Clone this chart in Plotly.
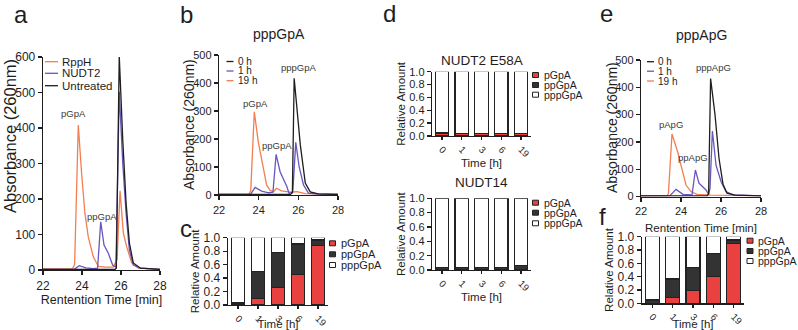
import plotly.graph_objects as go

W, H = 798, 330
FONT = "Liberation Sans, Arial, sans-serif"
INK = "#1e1e1e"
ORANGE = "#F27E52"
PURPLE = "#6A55C0"
BLACK = "#1e1e1e"
RED = "#E8413F"
DARK = "#333333"

# ---------------- data ----------------
# panel a : pppGpA treated with enzymes
a_rpph_t = [22.0, 23.0, 23.5, 23.62, 23.81, 23.98, 24.15, 24.32, 24.58, 24.84, 25.2, 25.6, 25.8, 25.95, 26.12, 26.29, 26.55, 26.89, 27.5, 28.0]
a_rpph_v = [3, 3, 3, 15, 408, 272, 160, 94, 37, 10, 8, 8, 30, 223, 104, 66, 20, 5, 3, 2]
a_nudt2_t = [22.0, 23.6, 23.86, 24.2, 24.58, 24.8, 24.96, 25.13, 25.35, 25.57, 25.74, 25.91, 26.09, 26.26, 26.43, 26.63, 27.0, 28.0]
a_nudt2_v = [2, 2, 12, 6, 4, 5, 136, 70, 47, 14, 8, 502, 300, 160, 56, 14, 5, 2]
a_untr_t = [22.0, 25.7, 25.76, 25.91, 26.09, 26.26, 26.43, 26.63, 27.0, 28.0]
a_untr_v = [2, 2, 5, 603, 366, 189, 76, 20, 5, 2]
a_names = ["RppH", "NUDT2", "Untreated"]

# panel b : pppGpA time course
b_19h_t = [22.0, 23.5, 23.6, 23.78, 23.98, 24.24, 24.4, 24.57, 24.75, 24.9, 25.15, 25.6, 25.93, 26.35, 27.0, 28.0]
b_19h_v = [2, 2, 15, 297, 190, 89, 36, 17, 12, 24, 15, 10, 12, 5, 3, 2]
b_1h_t = [22.0, 23.6, 23.82, 24.15, 24.5, 24.72, 24.88, 25.08, 25.42, 25.53, 25.72, 25.87, 26.04, 26.26, 26.51, 27.0, 28.0]
b_1h_v = [2, 3, 27, 14, 8, 10, 145, 83, 30, 6, 10, 188, 101, 36, 7, 3, 2]
b_0h_t = [22.0, 25.6, 25.7, 25.79, 26.1, 26.35, 26.6, 27.0, 28.0]
b_0h_v = [2, 2, 8, 417, 179, 43, 11, 4, 2]

# panel e : pppApG time course
e_19h_t = [22.0, 23.3, 23.37, 23.55, 23.83, 24.25, 24.5, 24.8, 25.5, 26.0, 27.0, 28.0]
e_19h_v = [2, 2, 10, 229, 164, 42, 18, 8, 5, 4, 2, 2]
e_1h_t = [22.0, 23.45, 23.75, 24.1, 24.55, 24.72, 24.9, 25.25, 25.38, 25.45, 25.57, 25.75, 26.0, 26.25, 26.6, 27.5, 28.0]
e_1h_v = [2, 3, 26, 8, 6, 97, 49, 24, 8, 30, 240, 115, 55, 18, 6, 3, 2]
e_0h_t = [22.0, 25.3, 25.38, 25.48, 25.7, 25.9, 26.1, 26.3, 26.7, 28.0]
e_0h_v = [2, 2, 10, 432, 300, 140, 45, 12, 5, 2]
time_names = ["0 h", "1 h", "19 h"]

# stacked bars (relative amounts)
bar_times = ["0", "1", "3", "6", "19"]
species = ["pGpA", "ppGpA", "pppGpA"]
c_p = [0.0, 0.10, 0.26, 0.455, 0.88]
c_pp = [0.03, 0.395, 0.52, 0.45, 0.085]
c_ppp = [0.97, 0.505, 0.22, 0.095, 0.035]
d1_p = [0.04, 0.035, 0.035, 0.035, 0.035]
d1_pp = [0.02, 0.01, 0.01, 0.01, 0.01]
d1_ppp = [0.94, 0.955, 0.955, 0.955, 0.955]
d2_p = [0.0, 0.0, 0.0, 0.0, 0.0]
d2_pp = [0.035, 0.04, 0.03, 0.03, 0.06]
d2_ppp = [0.965, 0.96, 0.97, 0.97, 0.94]
f_p = [0.0, 0.09, 0.19, 0.40, 0.90]
f_pp = [0.05, 0.275, 0.35, 0.35, 0.05]
f_ppp = [0.95, 0.635, 0.46, 0.25, 0.05]


def xd(px):
    return px / W


def yd(py):
    return 1 - py / H


fig = go.Figure()

def line(t, v, color, ax):
    fig.add_trace(go.Scatter(x=t, y=v, mode="lines", line=dict(color=color, width=1.3),
                             xaxis="x" + ax, yaxis="y" + ax, showlegend=False, hoverinfo="skip"))

line(a_rpph_t, a_rpph_v, ORANGE, "")
line(a_nudt2_t, a_nudt2_v, PURPLE, "")
line(a_untr_t, a_untr_v, BLACK, "")
line(b_19h_t, b_19h_v, ORANGE, "2")
line(b_1h_t, b_1h_v, PURPLE, "2")
line(b_0h_t, b_0h_v, BLACK, "2")
line(e_19h_t, e_19h_v, ORANGE, "6")
line(e_1h_t, e_1h_v, PURPLE, "6")
line(e_0h_t, e_0h_v, BLACK, "6")

bar_colors = [RED, DARK, "#FFFFFF"]

def bars(vals, ax):
    for name, v, col in zip(species, vals, bar_colors):
        fig.add_trace(go.Bar(x=bar_times, y=v, name=name, marker=dict(color=col, line=dict(color="#222", width=1.2)),
                             width=0.68, xaxis="x" + ax, yaxis="y" + ax, showlegend=False, hoverinfo="skip"))

bars([c_p, c_pp, c_ppp], "3")
bars([d1_p, d1_pp, d1_ppp], "4")
bars([d2_p, d2_pp, d2_ppp], "5")
bars([f_p, f_pp, f_ppp], "7")

common = dict(showline=True, linecolor=INK, linewidth=1.3, ticks="outside", ticklen=4, tickwidth=1.3,
              tickcolor=INK, showgrid=False, zeroline=False, automargin=False)

def chrom_axes(n, x0, x1, ytop, ybot, ymax, tick_size, xtitle, xtitle_size, xstand):
    sx = "xaxis" + n
    sy = "yaxis" + n
    k = n if n else ""
    fig.update_layout(**{
        sx: dict(common, domain=[xd(x0), xd(x1)], range=[22, 28], tickvals=[22, 24, 26, 28],
                 anchor="y" + k, tickfont=dict(size=tick_size, color=INK),
                 title=dict(text=xtitle, font=dict(size=xtitle_size, color=INK), standoff=xstand)),
        sy: dict(common, domain=[yd(ybot), yd(ytop)], range=[0, ymax], dtick=100,
                 anchor="x" + k, tickfont=dict(size=tick_size, color=INK)),
    })

chrom_axes("", 43, 160, 57, 270, 600, 12, "Rentention Time [min]", 12.5, 3)
chrom_axes("2", 219, 338, 55, 195, 500, 11, "", 11, 5)
chrom_axes("6", 641, 761, 60, 196.5, 500, 11, "Rentention Time [min]", 11.5, 8)

def bar_axes(n, x0, x1, ytop, ybot, tick_size, xtick_size, title_size, xstand):
    fig.update_layout(**{
        "xaxis" + n: dict(common, domain=[xd(x0), xd(x1)], type="category", range=[-0.5, 4.5],
                          anchor="y" + n, tickangle=45, ticklen=3, tickfont=dict(size=xtick_size, color=INK),
                          title=dict(text="Time [h]", font=dict(size=title_size, color=INK), standoff=xstand)),
        "yaxis" + n: dict(common, domain=[yd(ybot), yd(ytop)], range=[0, 1.0], tickvals=[0, 0.2, 0.4, 0.6, 0.8, 1.0],
                          tickformat=".1f", anchor="x" + n, tickfont=dict(size=tick_size, color=INK),
                          title=dict(text="Relative Amount", font=dict(size=title_size, color=INK), standoff=1)),
    })

bar_axes("3", 228, 328, 237.7, 305, 12, 9.5, 11.5, 0)
bar_axes("4", 432, 531, 71.7, 136, 11, 9.5, 11.5, 0)
bar_axes("5", 432, 531, 198.3, 270, 11, 9.5, 11.5, 0)
bar_axes("7", 642, 744, 236.7, 303.3, 12, 9.5, 11.5, 0)

ann = []
shapes = []

def text(x, y, s, size, xanchor="center", yanchor="middle", color=INK, angle=0):
    ann.append(dict(x=xd(x), y=yd(y), xref="paper", yref="paper", text=s, showarrow=False, textangle=angle,
                    font=dict(size=size, color=color, family=FONT), xanchor=xanchor, yanchor=yanchor))

# panel letters
for s, x, y in [("a", 21, 15), ("b", 186, 14), ("c", 186, 228), ("d", 389, 13), ("e", 606, 13), ("f", 602, 216)]:
    text(x, y, s, 24)

# panel titles
text(278.5, 34, "pppGpA", 14)
text(701, 35, "pppApG", 14)
text(481.5, 61, "NUDT2 E58A", 13.5)
text(481.5, 182, "NUDT14", 13.5)

# absorbance axis titles
text(10, 136, "Absorbance (260nm)", 16.5, angle=-90)
text(189, 125, "Absorbance (260nm)", 14, angle=-90)
text(612, 128, "Absorbance (260nm)", 14, angle=-90)

# line legends
def line_legend(x0, length, ys, names, colors, size):
    for y, nm, col in zip(ys, names, colors):
        shapes.append(dict(type="line", xref="paper", yref="paper", x0=xd(x0), x1=xd(x0 + length),
                           y0=yd(y), y1=yd(y), line=dict(color=col, width=1.3)))
        text(x0 + length + 2, y, nm, size, xanchor="left")

line_legend(45, 13, [61.7, 73.3, 85.7], a_names, [ORANGE, PURPLE, BLACK], 11.5)
line_legend(226.5, 7, [61.5, 71, 80.7], time_names, [BLACK, PURPLE, ORANGE], 10)
line_legend(647, 7, [61.7, 71.2, 81], time_names, [BLACK, PURPLE, ORANGE], 10)

# bar legends
def bar_legend(x0, ys, size, w=6, h=5):
    for y, nm, col in zip(ys, species, bar_colors):
        shapes.append(dict(type="rect", xref="paper", yref="paper", x0=xd(x0), x1=xd(x0 + w),
                           y0=yd(y + h / 2), y1=yd(y - h / 2), fillcolor=col, line=dict(color="#222", width=1)))
        text(x0 + w + 3, y, nm, size, xanchor="left")

bar_legend(329.5, [243.3, 254.3, 265], 11)
bar_legend(532.5, [75, 85, 94.7], 10.5)
bar_legend(532.5, [202.7, 212.7, 223.3], 10.5)
bar_legend(747, [240.7, 251, 261], 10.5)

# peak labels anchored on the data maxima
def peak_label(t, v, lo, hi, s, ax, xs=0, ys=2):
    idx = max((i for i in range(len(t)) if lo <= t[i] <= hi), key=lambda i: v[i])
    ann.append(dict(x=t[idx], y=v[idx], xref="x" + ax, yref="y" + ax, text=s, showarrow=False,
                    font=dict(size=9.5, color="#3a3a3a", family=FONT), xanchor="center", yanchor="bottom",
                    xshift=xs, yshift=ys))

peak_label(a_rpph_t, a_rpph_v, 23, 24.5, "pGpA", "", -5, 4)
peak_label(a_nudt2_t, a_nudt2_v, 24.5, 25.5, "ppGpA", "", 1, -2)
peak_label(a_untr_t, a_untr_v, 25.5, 26.5, "pppGpA", "", 5, 3)
peak_label(b_19h_t, b_19h_v, 23, 24.5, "pGpA", "2", 1, 1)
peak_label(b_1h_t, b_1h_v, 24.5, 25.5, "ppGpA", "2", 1, 1)
peak_label(b_0h_t, b_0h_v, 25.5, 26.5, "pppGpA", "2", 5, 3)
peak_label(e_19h_t, e_19h_v, 23, 24.5, "pApG", "6", -1, 2)
peak_label(e_1h_t, e_1h_v, 24.5, 25.2, "ppApG", "6", -2, 5)
peak_label(e_0h_t, e_0h_v, 25.2, 26.5, "pppApG", "6", 3, 4)

fig.update_layout(
    width=W, height=H, margin=dict(l=0, r=0, t=0, b=0),
    paper_bgcolor="white", plot_bgcolor="white",
    font=dict(family=FONT, color=INK), barmode="stack", bargap=0.3,
    showlegend=False, annotations=ann, shapes=shapes,
)

fig.write_html("out.html", config={"displayModeBar": False, "staticPlot": True},
               post_script="document.body.style.margin='0px';document.body.style.overflow='hidden';")
